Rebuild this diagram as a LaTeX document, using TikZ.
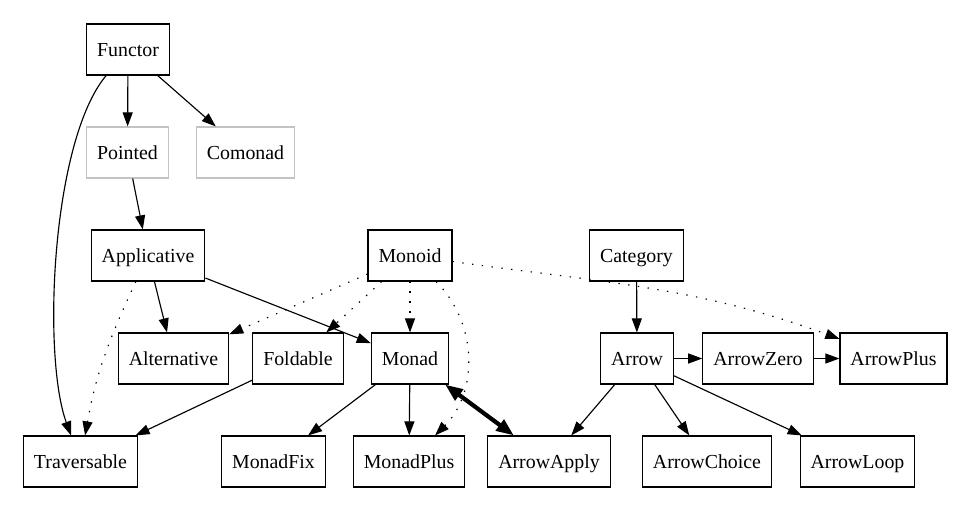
\documentclass[tikz,border=0pt]{standalone}
\usepackage{fontspec}
\setmainfont{Liberation Serif}
\usepackage{xcolor}
\usetikzlibrary{arrows.meta}
\definecolor{faded}{RGB}{195,195,195}
\tikzset{
  cls/.style={draw, rectangle, minimum height=1.02cm, inner xsep=0.21cm, inner ysep=0pt,
    text height=9pt, text depth=1.6pt, line width=0.65pt, font=\rmfamily\fontsize{11.3}{13}\selectfont},
  faint/.style={cls, draw=faded},
  tip/.style={-{Stealth[inset=0pt,length=8pt,width=5.7pt]}, line width=0.65pt},
  weak/.style={tip, dash pattern=on 0.8pt off 4.8pt},
  strong/.style={{Stealth[inset=0pt,length=10pt,width=7.5pt]}-{Stealth[inset=0pt,length=10pt,width=7.5pt]}, line width=2.4pt}
}

\begin{document}
\begin{tikzpicture}
  \useasboundingbox (0,0) rectangle (19.52,-10.38);
  \node[cls]   (functor)     at (2.56,-0.99)  {Functor};
  \node[faint] (pointed)     at (2.55,-3.05)  {Pointed};
  \node[faint] (comonad)     at (4.91,-3.05)  {Comonad};
  \node[cls]   (applicative) at (2.96,-5.11)  {Applicative};
  \node[cls]   (monoid)      at (8.20,-5.11)  {Monoid};
  \node[cls]   (category)    at (12.73,-5.11) {Category};
  \node[cls]   (alternative) at (3.47,-7.17)  {Alternative};
  \node[cls]   (foldable)    at (5.96,-7.17)  {Foldable};
  \node[cls]   (monad)       at (8.20,-7.17)  {Monad};
  \node[cls]   (arrow)       at (12.74,-7.17) {Arrow};
  \node[cls]   (arrowzero)   at (15.16,-7.17) {ArrowZero};
  \node[cls]   (arrowplus)   at (17.87,-7.17) {ArrowPlus};
  \node[cls]   (traversable) at (1.61,-9.23)  {Traversable};
  \node[cls]   (monadfix)    at (5.47,-9.23)  {MonadFix};
  \node[cls]   (monadplus)   at (8.18,-9.23)  {MonadPlus};
  \node[cls]   (arrowapply)  at (10.98,-9.23) {ArrowApply};
  \node[cls]   (arrowchoice) at (14.14,-9.23) {ArrowChoice};
  \node[cls]   (arrowloop)   at (17.15,-9.23) {ArrowLoop};
  \path[tip]
    (functor) edge (pointed)
    (functor) edge (comonad)
    (functor) edge [out=230,in=110,looseness=0.6] (traversable)
    (pointed) edge (applicative)
    (applicative) edge (alternative)
    (applicative) edge (monad)
    (foldable) edge (traversable)
    (monad) edge (monadfix)
    (monad) edge (monadplus)
    (category) edge (arrow)
    (arrow) edge (arrowzero)
    (arrowzero) edge (arrowplus)
    (arrow) edge (arrowapply)
    (arrow) edge (arrowchoice)
    (arrow) edge (arrowloop);
  \path[weak]
    (applicative) edge [out=245,in=80] (traversable)
    (monoid) edge (alternative)
    (monoid) edge (foldable)
    (monoid) edge (monad)
    (monoid) edge [out=-45,in=45] (monadplus)
    (monoid) edge [out=-8,in=160] (arrowplus);
  \draw[strong] (monad) -- (arrowapply);
\end{tikzpicture}
\end{document}
